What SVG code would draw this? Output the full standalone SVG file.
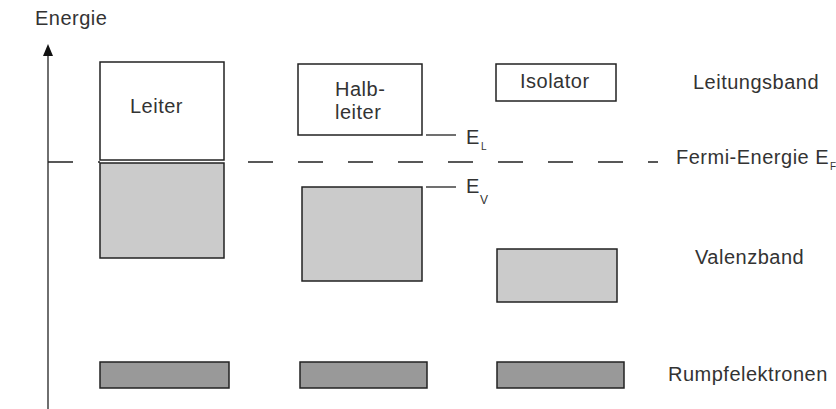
<svg xmlns="http://www.w3.org/2000/svg" width="836" height="409" viewBox="0 0 836 409">
  <style>
    text { font-family: "Liberation Sans", Arial, sans-serif; font-size: 20px; fill: #333; letter-spacing: 0.5px; }
    .sub { font-size: 10px; letter-spacing: 0; }
    .band { fill: #ffffff; stroke: #222; stroke-width: 1.5; }
    .valence { fill: #cbcbcb; stroke: #222; stroke-width: 1.5; }
    .core { fill: #999999; stroke: #222; stroke-width: 1.5; }
    .line { stroke: #222; stroke-width: 1.3; fill: none; }
  </style>
  <rect width="836" height="409" fill="#ffffff"/>

  <!-- axis, Fermi level and band edge markers -->
  <g id="connectors">
    <line class="line" x1="48" y1="409" x2="48" y2="54"/>
    <polygon points="48,44 43,56 53,56" fill="#111"/>
    <line class="line" x1="48" y1="162" x2="658" y2="162" stroke-dasharray="25 25"/>
    <line class="line" x1="426" y1="135" x2="456" y2="135"/>
    <line class="line" x1="426" y1="187" x2="456" y2="187"/>
  </g>

  <g id="axis-label">
    <text x="35" y="25">Energie</text>
  </g>

  <!-- Leiter -->
  <g id="leiter">
    <rect x="100" y="160" width="124" height="3" fill="#ffffff"/>
    <rect class="band" x="100" y="62" width="124" height="98"/>
    <text x="130" y="113">Leiter</text>
    <rect class="valence" x="100" y="163" width="124" height="95"/>
    <rect class="core" x="100" y="362" width="129" height="26"/>
  </g>

  <!-- Halbleiter -->
  <g id="halbleiter">
    <rect class="band" x="298" y="64" width="124" height="71"/>
    <text x="335" y="96">Halb-</text>
    <text x="335" y="119">leiter</text>
    <rect class="valence" x="302" y="187" width="120" height="94"/>
    <rect class="core" x="300" y="362" width="127" height="26"/>
  </g>

  <!-- Isolator -->
  <g id="isolator">
    <rect class="band" x="496" y="64" width="120" height="37"/>
    <text x="520" y="88">Isolator</text>
    <rect class="valence" x="497" y="249" width="120" height="53"/>
    <rect class="core" x="497" y="362" width="127" height="26"/>
  </g>

  <!-- level labels -->
  <g id="levels">
    <text x="466" y="144">E</text><text class="sub" x="481" y="150">L</text>
    <text x="466" y="193">E</text><text class="sub" x="480" y="204" style="font-size:12px">V</text>
    <text x="676" y="164">Fermi-Energie E</text><text class="sub" x="830" y="170">F</text>
  </g>

  <!-- band names -->
  <g id="band-names">
    <text x="693" y="89">Leitungsband</text>
    <text x="695" y="264">Valenzband</text>
    <text x="668" y="381">Rumpfelektronen</text>
  </g>
</svg>
